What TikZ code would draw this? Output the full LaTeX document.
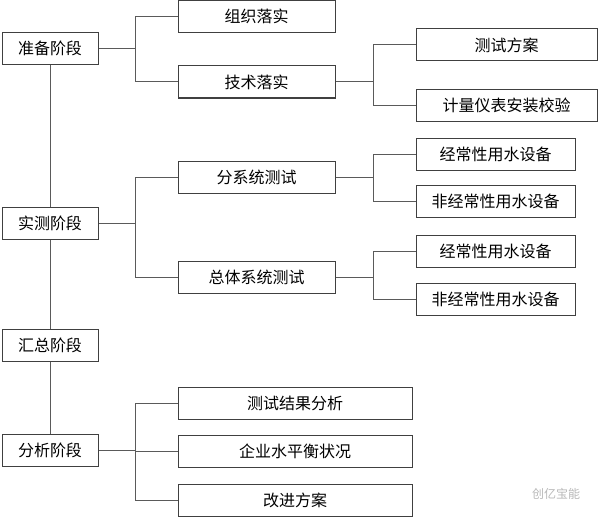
\documentclass[tikz,border=0pt]{standalone}
\usepackage{fontspec}
\setmainfont{Noto Sans CJK SC}
\usetikzlibrary{positioning,calc}
\definecolor{boxline}{HTML}{404040}
\definecolor{linkline}{HTML}{5A5A5A}
\tikzset{
  stage/.style={draw=boxline,line width=1pt,fill=white,inner sep=0pt,
    minimum width=96,minimum height=32,font=\fontsize{16}{18}\selectfont},
  task/.style={stage,minimum width=157},
  subtask/.style={stage,minimum width=159},
  plan/.style={stage,minimum width=181},
  result/.style={stage,minimum width=234},
  link/.style={draw=linkline,line width=1pt}
}
\begin{document}
\begin{tikzpicture}[x=1pt,y=-1pt]
    \useasboundingbox[fill=white] (0,0) rectangle (600,519);

    % stages
    \node[stage] (zb) at (50,48.5) {准备阶段};
    \node[stage] (ss) at (50,223) {实测阶段};
    \node[stage] (hz) at (50,345) {汇总阶段};
    \node[stage] (fx) at (50,450) {分析阶段};

    % second level
    \node[task] (zzls) at (256.5,16.5) {组织落实};
    \node[task] (jsls) at (256.5,82) {技术落实};
    \node[task] (fxt) at (256.5,177) {分系统测试};
    \node[task] (ztxt) at (256.5,277) {总体系统测试};
    \node[result] (jgfx) at (295,403) {测试结果分析};
    \node[result] (qysp) at (295,451) {企业水平衡状况};
    \node[result] (gjfa) at (295,500) {改进方案};

    % third level
    \node[plan] (csfa) at (506.5,45) {测试方案};
    \node[plan] (jlyb) at (506.5,105.5) {计量仪表安装校验};
    \node[subtask] (jca) at (495.5,154) {经常性用水设备};
    \node[subtask] (fjca) at (495.5,201.5) {非经常性用水设备};
    \node[subtask] (jcb) at (495.5,251.5) {经常性用水设备};
    \node[subtask] (fjcb) at (495.5,299.5) {非经常性用水设备};

    \coordinate (bl) at (135,0);
    \coordinate (br) at (373,0);

    % spine
    \draw[link] (zb) -- (ss);
    \draw[link] (ss) -- (hz);
    \draw[link] (hz) -- (fx);

    % brackets
    \draw[link] (zb.east) -- (bl |- zb.east);
    \draw[link] (zzls.west) -| (bl |- jsls.west) -- (jsls.west);
    \draw[link] (ss.east) -- (bl |- ss.east);
    \draw[link] (fxt.west) -| (bl |- ztxt.west) -- (ztxt.west);
    \draw[link] (fx.east) -- (bl |- fx.east);
    \draw[link] (jgfx.west) -| (bl |- gjfa.west) -- (gjfa.west);
    \draw[link] (bl |- qysp.west) -- (qysp.west);

    \draw[link] (jsls.east) -- (br |- jsls.east);
    \draw[link] (csfa.west) -| (br |- jlyb.west) -- (jlyb.west);
    \draw[link] (fxt.east) -- (br |- fxt.east);
    \draw[link] (jca.west) -| (br |- fjca.west) -- (fjca.west);
    \draw[link] (ztxt.east) -- (br |- ztxt.east);
    \draw[link] (jcb.west) -| (br |- fjcb.west) -- (fjcb.west);

    % mark
    \node[text=gray!55,font=\fontsize{12}{14}\selectfont] (mark) at (556,494) {创亿宝能};
\end{tikzpicture}
\end{document}
